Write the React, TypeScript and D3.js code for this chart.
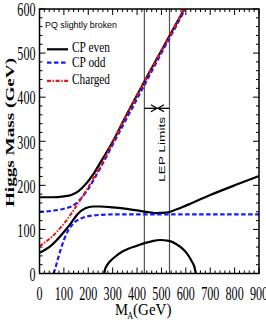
import React from "react";
import * as d3 from "d3";

// ---- data ----
const mAHeavyEven = [0, 50, 100, 130, 160, 190, 220, 250, 300, 350, 400, 450, 500, 550, 600];
const heavyEven = [173, 173, 175, 178, 187, 203, 225, 252, 299, 353, 405, 456, 506, 556, 606];

const mALightEven = [0, 45, 100, 130, 155, 188, 220, 250, 300, 350, 400, 450, 480, 520, 560, 600, 700, 800, 900];
const lightEven = [47, 62, 94, 115, 134, 148, 152, 152, 150, 147, 143, 139, 137, 138, 145, 154, 178, 200, 221];

const mALowestEven = [266, 268, 275, 290, 310, 340, 364, 400, 430, 460, 494, 531, 560, 583, 605, 624, 635, 641];
const lowestEven = [0, 8, 17, 28, 38, 50, 56, 63, 69, 73, 76, 74, 67, 58, 45, 28, 15, 0];

const mAOddHeavy = [0, 50, 100, 130, 150, 170, 200, 250, 300, 350, 400, 450, 500, 550, 600];
const oddHeavy = [140, 142, 147, 152, 159, 170, 192, 240, 292, 344, 396, 448, 500, 551, 602];

const mAOddLight = [58, 70, 80, 90, 100, 115, 130, 150, 175, 200, 250, 300, 400, 500, 600, 700, 800, 900];
const oddLight = [0, 22, 42, 60, 76, 95, 108, 119, 126, 130, 133, 134, 134, 134, 134, 134, 134, 134];

const mACharged = [0, 50, 100, 150, 200, 250, 300, 350, 400, 450, 500, 550, 600];
const charged = [62, 83, 113, 152, 196, 244, 297, 352, 404, 455, 505, 555, 605];

const lepLimits = [430, 533];
const xTicks = [0, 100, 200, 300, 400, 500, 600, 700, 800, 900];
const yTicks = [0, 100, 200, 300, 400, 500, 600];
const legendLabels = ["CP even", "CP odd", "Charged"];

const W = 266, H = 327;
const L = 39.5, R = 259, T = 9, B = 273.5;

const BLACK = "#000";
const BLUE = "#1a1aff";
const RED = "#ee1111";
const DASH_BLUE = "4.5,2.5";
const DASH_RED = "4,1.6,1.4,1.6";

export default function App() {
  const x = d3.scaleLinear().domain([0, 900]).range([L, R]);
  const y = d3.scaleLinear().domain([0, 600]).range([B, T]);
  const line = (xs: number[], ys: number[]) =>
    d3
      .line<number>()
      .x((_, i) => x(xs[i]))
      .y((d) => y(d))
      .curve(d3.curveMonotoneX)(ys) || "";

  const minorX = d3.range(0, 901, 20);
  const minorY = d3.range(0, 601, 20);

  const serif = "'Liberation Serif', 'Times New Roman', serif";
  const sans = "'Liberation Sans', Arial, sans-serif";

  const legendY = [49.3, 62.7, 80.8];
  const legendBase = [51.7, 66.7, 84];
  const legendW = [38, 33.5, 38];
  const legendStyles = [
    { stroke: BLACK, dash: undefined as string | undefined },
    { stroke: BLUE, dash: DASH_BLUE },
    { stroke: RED, dash: DASH_RED },
  ];
  const digitW = 6.05;

  return (
    <svg
      width={W}
      height={H}
      style={{ position: "absolute", left: 0, top: 0, background: "#fff" }}
    >
      <defs>
        <clipPath id="plot">
          <rect x={L} y={T} width={R - L} height={B - T} />
        </clipPath>
      </defs>
      <rect x={0} y={0} width={W} height={H} fill="#fff" />

      {/* LEP limit lines */}
      {lepLimits.map((v) => (
        <line key={v} x1={x(v)} x2={x(v)} y1={T} y2={B} stroke="#555" strokeWidth={1.2} />
      ))}
      {/* arrows */}
      <g stroke={BLACK} strokeWidth={1.3} fill="none">
        <line x1={x(lepLimits[0])} x2={x(lepLimits[0]) + 12.5} y1={108.3} y2={108.3} />
        <polyline
          points={`${x(lepLimits[0]) + 6.5},${104.8} ${x(lepLimits[0]) + 12.5},${108.3} ${x(lepLimits[0]) + 6.5},${111.8}`}
        />
        <line x1={x(lepLimits[1])} x2={x(lepLimits[1]) - 11.5} y1={108.3} y2={108.3} />
        <polyline
          points={`${x(lepLimits[1]) - 5.5},${104.8} ${x(lepLimits[1]) - 11.5},${108.3} ${x(lepLimits[1]) - 5.5},${111.8}`}
        />
      </g>
      <text
        transform={`translate(165.3,149.5) rotate(-90) scale(1,0.68)`}
        textAnchor="middle"
        fontFamily={sans}
        fontSize={13.7}
      >
        LEP Limits
      </text>

      {/* curves */}
      <g clipPath="url(#plot)" fill="none" strokeLinejoin="round">
        <path d={line(mALowestEven, lowestEven)} stroke={BLACK} strokeWidth={2.2} />
        <path d={line(mALightEven, lightEven)} stroke={BLACK} strokeWidth={2.2} />
        <path d={line(mAHeavyEven, heavyEven)} stroke={BLACK} strokeWidth={2.2} />
        <path d={line(mAOddLight, oddLight)} stroke={BLUE} strokeWidth={2.2} strokeDasharray={DASH_BLUE} />
        <path d={line(mAOddHeavy, oddHeavy)} stroke={BLUE} strokeWidth={2.2} strokeDasharray={DASH_BLUE} />
        <path d={line(mACharged, charged)} stroke={RED} strokeWidth={2} strokeDasharray={DASH_RED} />
      </g>

      {/* ticks */}
      <g stroke={BLACK} strokeWidth={1}>
        {minorX.map((v) => {
          const len = v % 100 === 0 ? 6 : 3;
          return (
            <g key={"x" + v}>
              <line x1={x(v)} x2={x(v)} y1={B} y2={B - len} />
              <line x1={x(v)} x2={x(v)} y1={T} y2={T + len} />
            </g>
          );
        })}
        {minorY.map((v) => {
          const len = v % 100 === 0 ? 6 : 3;
          return (
            <g key={"y" + v}>
              <line x1={L} x2={L + len} y1={y(v)} y2={y(v)} />
              <line x1={R} x2={R - len} y1={y(v)} y2={y(v)} />
            </g>
          );
        })}
      </g>
      <rect x={L} y={T} width={R - L} height={B - T} fill="none" stroke={BLACK} strokeWidth={1.5} />

      {/* tick labels */}
      {xTicks.map((v) => {
        const w = digitW * String(v).length;
        return (
          <text
            key={"xl" + v}
            x={x(v) - w / 2}
            y={299.5}
            textLength={w}
            lengthAdjust="spacingAndGlyphs"
            fontFamily={serif}
            fontSize={19.5}
          >
            {v}
          </text>
        );
      })}
      {yTicks.map((v) => {
        const w = digitW * String(v).length;
        return (
          <text
            key={"yl" + v}
            x={35.5 - w}
            y={y(v) + 7.3}
            textLength={w}
            lengthAdjust="spacingAndGlyphs"
            fontFamily={serif}
            fontSize={19.5}
          >
            {v}
          </text>
        );
      })}

      {/* axis titles */}
      <text
        transform={`translate(13.5,132.5) rotate(-90) scale(1,0.63)`}
        textAnchor="middle"
        fontFamily={serif}
        fontWeight="bold"
        fontSize={19.2}
      >
        Higgs Mass (GeV)
      </text>
      <text fontFamily={serif} fontSize={17.5}>
        <tspan x={115} y={314.5} textLength={13} lengthAdjust="spacingAndGlyphs">
          M
        </tspan>
        <tspan x={127.3} y={318.5} fontSize={10} textLength={6} lengthAdjust="spacingAndGlyphs">
          A
        </tspan>
        <tspan x={133} y={314.5} textLength={38.5} lengthAdjust="spacingAndGlyphs">
          (GeV)
        </tspan>
      </text>

      {/* legend */}
      <text x={45} y={28} textLength={72} lengthAdjust="spacingAndGlyphs" fontFamily={sans} fontSize={9.3}>
        PQ slightly broken
      </text>
      {legendLabels.map((lab, i) => (
        <g key={lab}>
          <line
            x1={47}
            x2={68}
            y1={legendY[i]}
            y2={legendY[i]}
            stroke={legendStyles[i].stroke}
            strokeWidth={2.2}
            strokeDasharray={legendStyles[i].dash}
          />
          <text
            x={72}
            y={legendBase[i]}
            textLength={legendW[i]}
            lengthAdjust="spacingAndGlyphs"
            fontFamily={serif}
            fontSize={13.6}
          >
            {lab}
          </text>
        </g>
      ))}
    </svg>
  );
}
